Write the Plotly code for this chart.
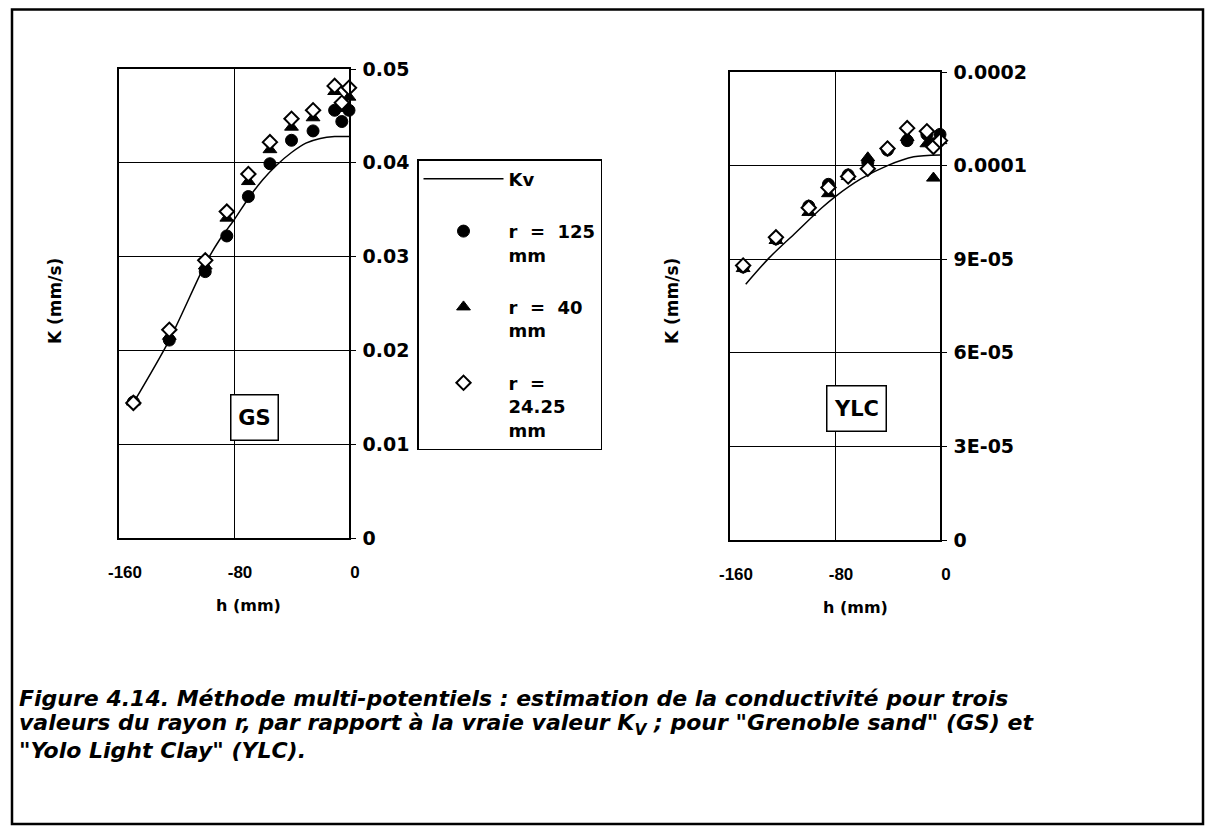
import plotly.graph_objects as go

# ---------------- data ----------------
h_pts = [-150, -125, -100, -85, -70, -55, -40, -25, -10, -5, 0]

gs_r125 = [0.0145, 0.0211, 0.0284, 0.0322, 0.0364, 0.0399, 0.0424, 0.0434, 0.0456, 0.0444, 0.0456]
gs_r40 = [0.0145, 0.0215, 0.0290, 0.0341, 0.0380, 0.0414, 0.0438, 0.0448, 0.0476, 0.0458, 0.0470]
gs_r2425 = [0.0144, 0.0222, 0.0296, 0.0348, 0.0388, 0.0422, 0.0447, 0.0456, 0.0482, 0.0464, 0.0480]

gs_kv_h = [-150, -125, -100, -90, -80, -70, -60, -50, -40, -30, -20, -10, 0]
gs_kv = [0.0144, 0.0211, 0.0292, 0.0318, 0.0339, 0.0362, 0.0382, 0.0398, 0.0411, 0.0421, 0.0426, 0.0428, 0.0428]

ylc_r125 = [8.75e-5, 9.65e-5, 1.07e-4, 1.14e-4, 1.17e-4, 1.21e-4, 1.25e-4, 1.28e-4, 1.30e-4, 1.27e-4, 1.30e-4]
ylc_r40 = [8.7e-5, 9.6e-5, 1.05e-4, 1.11e-4, 1.165e-4, 1.225e-4, 1.26e-4, 1.29e-4, 1.27e-4, 1.16e-4, 1.28e-4]
ylc_r2425 = [8.8e-5, 9.7e-5, 1.065e-4, 1.13e-4, 1.165e-4, 1.19e-4, 1.255e-4, 1.32e-4, 1.31e-4, 1.26e-4, 1.28e-4]

ylc_kv_h = [-148, -130, -110, -90, -80, -60, -40, -20, 0]
ylc_kv = [8.2e-5, 9.05e-5, 9.85e-5, 1.065e-4, 1.10e-4, 1.158e-4, 1.20e-4, 1.228e-4, 1.234e-4]

x_ticks = [-160, -80, 0]
x_ticktext = ["-160", "-80", "0"]
gs_yticks = [0, 0.01, 0.02, 0.03, 0.04, 0.05]
gs_ytext = ["0", "0.01", "0.02", "0.03", "0.04", "0.05"]
ylc_yticks = [0, 3e-5, 6e-5, 9e-5, 1.2e-4, 1.5e-4]
ylc_ytext = ["0", "3E-05", "6E-05", "9E-05", "0.0001", "0.0002"]

NB = "\u00a0"
names = ["Kv",
         f"r{NB}{NB}={NB}{NB}125<br>mm",
         f"r{NB}{NB}={NB}{NB}40<br>mm",
         f"r{NB}{NB}=<br>24.25<br>mm"]

caption_lines = [
    "Figure 4.14. Méthode multi-potentiels : estimation de la conductivité pour trois",
    "valeurs du rayon r, par rapport à la vraie valeur K<sub>V</sub> ; pour \"Grenoble sand\" (GS) et",
    "\"Yolo Light Clay\" (YLC).",
]

# the html page places the figure 8 px in from the top-left corner
OFF = 8
W, H = 1213 - 2 * OFF, 834 - 2 * OFF
FONT = "DejaVu Sans, Verdana, sans-serif"
FONT2 = "Liberation Sans, Arial, sans-serif"


def px_x(p):
    return (p - OFF) / W


def px_y(p):
    return 1 - (p - OFF) / H


fig = go.Figure()

series_sets = [
    ("x", "y", gs_kv_h, gs_kv, [gs_r125, gs_r40, gs_r2425], True),
    ("x2", "y2", ylc_kv_h, ylc_kv, [ylc_r125, ylc_r40, ylc_r2425], False),
]
marker_styles = [
    dict(symbol="circle", size=12, color="black", line=dict(color="black", width=1)),
    dict(symbol="triangle-up", size=12, color="black", line=dict(color="black", width=1)),
    dict(symbol="diamond", size=11, color="white", line=dict(color="black", width=2)),
]

for xa, ya, kvh, kv, pts, show in series_sets:
    fig.add_trace(go.Scatter(
        x=kvh, y=kv, mode="lines", name=names[0], legendgroup="g0",
        line=dict(color="black", width=1.5, shape="spline", smoothing=0.8),
        xaxis=xa, yaxis=ya, showlegend=show, cliponaxis=False,
    ))
    for i, vals in enumerate(pts):
        fig.add_trace(go.Scatter(
            x=h_pts, y=vals, mode="markers", name=names[i + 1], legendgroup=f"g{i+1}",
            marker=marker_styles[i], xaxis=xa, yaxis=ya, showlegend=show, cliponaxis=False,
        ))

axis_common = dict(
    showline=True, mirror=True, linecolor="black", linewidth=1.5,
    showgrid=True, gridcolor="black", gridwidth=1.2, zeroline=False, automargin=False,
)
xfont = dict(family=FONT2, size=17, color="black", weight="bold")
yfont = dict(family=FONT, size=19, color="black", weight="bold")

fig.update_layout(
    xaxis=dict(domain=[px_x(119), px_x(349)], range=[-160, 0], tickvals=x_ticks, ticktext=x_ticktext,
               tickfont=xfont, ticks="", ticklabelstandoff=18, ticklabelshift=6, anchor="y", **axis_common),
    yaxis=dict(domain=[px_y(538), px_y(69)], range=[0, 0.05], tickvals=gs_yticks, ticktext=gs_ytext,
               side="right", anchor="x", tickfont=yfont, ticks="outside", ticklen=5, tickcolor="black",
               ticklabelstandoff=3, **axis_common),
    xaxis2=dict(domain=[px_x(730), px_x(940)], range=[-160, 0], tickvals=x_ticks, ticktext=x_ticktext,
                tickfont=xfont, ticks="", ticklabelstandoff=18, ticklabelshift=6, anchor="y2", **axis_common),
    yaxis2=dict(domain=[px_y(540), px_y(72)], range=[0, 1.5e-4], tickvals=ylc_yticks, ticktext=ylc_ytext,
                side="right", anchor="x2", tickfont=yfont, ticks="outside", ticklen=5, tickcolor="black",
                ticklabelstandoff=3, **axis_common),
    width=W, height=H,
    margin=dict(l=0, r=0, t=0, b=0, pad=0, autoexpand=False),
    paper_bgcolor="white", plot_bgcolor="white",
    showlegend=True,
    legend=dict(
        x=px_x(417), y=px_y(159), xanchor="left", yanchor="top",
        bordercolor="black", borderwidth=1.5, bgcolor="white",
        font=dict(family=FONT, size=18, color="black", weight="bold"),
        traceorder="grouped", tracegroupgap=26, valign="top", itemwidth=80,
    ),
)

bold = dict(color="black", weight="bold")
annotations = [
    dict(text="K (mm/s)", x=px_x(55), y=px_y(301), xref="paper", yref="paper", textangle=-90,
         xanchor="center", yanchor="middle", showarrow=False, font=dict(family=FONT, size=17, **bold)),
    dict(text="K (mm/s)", x=px_x(672), y=px_y(301), xref="paper", yref="paper", textangle=-90,
         xanchor="center", yanchor="middle", showarrow=False, font=dict(family=FONT, size=17, **bold)),
    dict(text="h (mm)", x=px_x(248), y=px_y(605), xref="paper", yref="paper",
         xanchor="center", yanchor="middle", showarrow=False, font=dict(family=FONT, size=16, **bold)),
    dict(text="h (mm)", x=px_x(855), y=px_y(607), xref="paper", yref="paper",
         xanchor="center", yanchor="middle", showarrow=False, font=dict(family=FONT, size=16, **bold)),
    dict(text="GS", x=-66, y=0.0129, xref="x", yref="y", showarrow=False,
         xanchor="center", yanchor="middle",
         bordercolor="black", borderwidth=1.5, bgcolor="white", borderpad=5, width=36, height=34,
         font=dict(family=FONT, size=21, **bold)),
    dict(text="YLC", x=-64, y=4.2e-5, xref="x2", yref="y2", showarrow=False,
         xanchor="center", yanchor="middle",
         bordercolor="black", borderwidth=1.5, bgcolor="white", borderpad=5, width=48, height=34,
         font=dict(family=FONT, size=21, **bold)),
]
for i, line in enumerate(caption_lines):
    annotations.append(dict(
        text=f"<i>{line}</i>", x=px_x(17), y=px_y(698 + 26 * i), xref="paper", yref="paper",
        xanchor="left", yanchor="middle", align="left", showarrow=False,
        font=dict(family=FONT, size=22, **bold)))
fig.update_layout(annotations=annotations)

fig.add_shape(type="rect", xref="paper", yref="paper",
              x0=px_x(12), x1=px_x(1203), y0=px_y(824), y1=px_y(9.5),
              line=dict(color="black", width=2.5), fillcolor="rgba(0,0,0,0)", layer="below")

fig.write_html("out.html")
